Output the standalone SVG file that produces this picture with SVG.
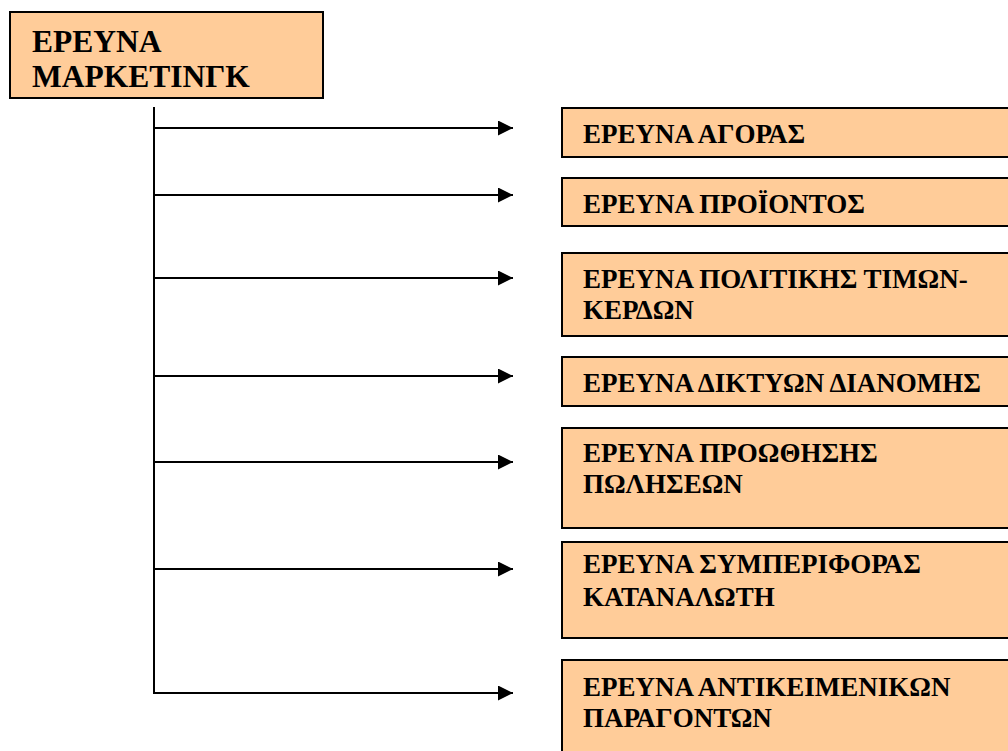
<svg xmlns="http://www.w3.org/2000/svg" width="1008" height="751" viewBox="0 0 1008 751">
<style>
.box{fill:#FFCC99;stroke:#000;stroke-width:2}
.t{font-family:"Liberation Serif","Times New Roman",serif;font-weight:bold;fill:#000}
.t1{font-size:31.5px}
.t2{font-size:27px}
.ln{stroke:#000;stroke-width:2;fill:none}
</style>
<defs>
<marker id="ah" markerUnits="userSpaceOnUse" markerWidth="16" markerHeight="16" refX="15" refY="7.5" orient="auto" viewBox="0 0 16 16">
<path d="M0,0 L15,7.5 L0,15 Z" fill="#000"/>
</marker>
</defs>
<rect width="1008" height="751" fill="#fff"/>
<g id="root">
<rect class="box" x="10" y="12" width="313" height="86"/>
<text class="t t1" x="32" y="52">ΕΡΕΥΝΑ</text>
<text class="t t1" x="32" y="87">ΜΑΡΚΕΤΙΝΓΚ</text>
</g>
<g id="connectors">
<line class="ln" x1="154" y1="107" x2="154" y2="694"/>
<line class="ln" x1="153" y1="128" x2="513" y2="128" marker-end="url(#ah)"/>
<line class="ln" x1="153" y1="195" x2="513" y2="195" marker-end="url(#ah)"/>
<line class="ln" x1="153" y1="278" x2="513" y2="278" marker-end="url(#ah)"/>
<line class="ln" x1="153" y1="376" x2="513" y2="376" marker-end="url(#ah)"/>
<line class="ln" x1="153" y1="462" x2="513" y2="462" marker-end="url(#ah)"/>
<line class="ln" x1="153" y1="569" x2="513" y2="569" marker-end="url(#ah)"/>
<line class="ln" x1="153" y1="693" x2="513" y2="693" marker-end="url(#ah)"/>
</g>
<g id="n1">
<rect class="box" x="562" y="108" width="460" height="49"/>
<text class="t t2" x="583" y="143">ΕΡΕΥΝΑ ΑΓΟΡΑΣ</text>
</g>
<g id="n2">
<rect class="box" x="562" y="178" width="460" height="48"/>
<text class="t t2" x="583" y="213">ΕΡΕΥΝΑ ΠΡΟΪΟΝΤΟΣ</text>
</g>
<g id="n3">
<rect class="box" x="562" y="253" width="460" height="83"/>
<text class="t t2" x="583" y="288">ΕΡΕΥΝΑ ΠΟΛΙΤΙΚΗΣ ΤΙΜΩΝ-</text>
<text class="t t2" x="583" y="319">ΚΕΡΔΩΝ</text>
</g>
<g id="n4">
<rect class="box" x="562" y="357" width="460" height="49"/>
<text class="t t2" x="583" y="392">ΕΡΕΥΝΑ ΔΙΚΤΥΩΝ ΔΙΑΝΟΜΗΣ</text>
</g>
<g id="n5">
<rect class="box" x="562" y="428" width="460" height="100"/>
<text class="t t2" x="583" y="462">ΕΡΕΥΝΑ ΠΡΟΩΘΗΣΗΣ</text>
<text class="t t2" x="583" y="493">ΠΩΛΗΣΕΩΝ</text>
</g>
<g id="n6">
<rect class="box" x="562" y="542" width="460" height="96"/>
<text class="t t2" x="583" y="573">ΕΡΕΥΝΑ ΣΥΜΠΕΡΙΦΟΡΑΣ</text>
<text class="t t2" x="583" y="606">ΚΑΤΑΝΑΛΩΤΗ</text>
</g>
<g id="n7">
<rect class="box" x="562" y="660" width="460" height="110"/>
<text class="t t2" x="583" y="696">ΕΡΕΥΝΑ ΑΝΤΙΚΕΙΜΕΝΙΚΩΝ</text>
<text class="t t2" x="583" y="727">ΠΑΡΑΓΟΝΤΩΝ</text>
</g>
</svg>
